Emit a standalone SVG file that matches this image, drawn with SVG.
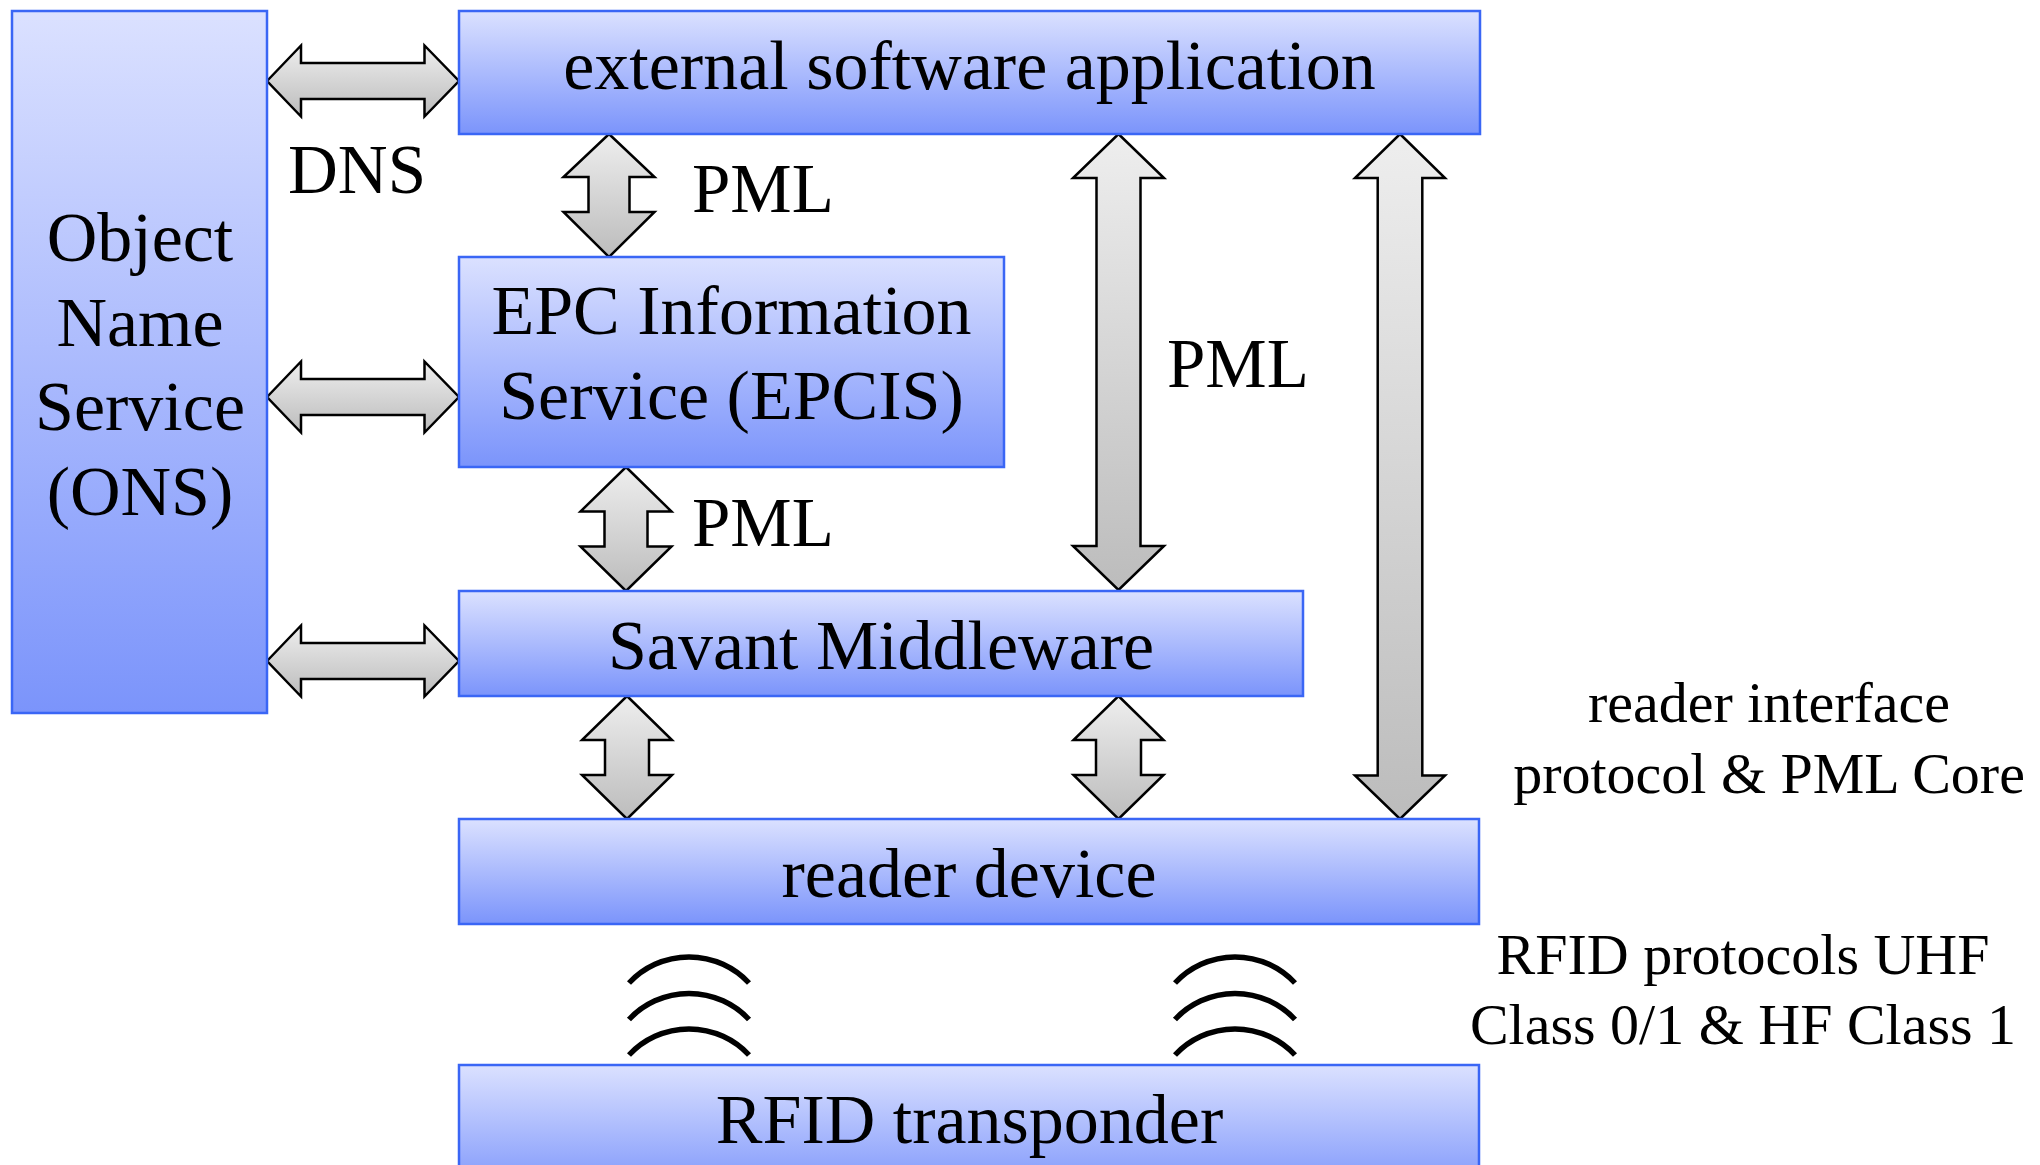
<svg xmlns="http://www.w3.org/2000/svg" width="2040" height="1165" viewBox="0 0 2040 1165">
<style>
.box{fill:url(#boxg);stroke:#3a66f5;stroke-width:2.5}
.arr{fill:url(#arrg);stroke:#000;stroke-width:2.5;stroke-linejoin:miter}
.wave{fill:none;stroke:#000;stroke-width:5.5}
text{font-family:"Liberation Serif","Times New Roman",serif;fill:#000}
.nt{font-size:70px;text-anchor:middle}
.lb{font-size:69px}
.rt{font-size:58px;text-anchor:middle}
</style>
<defs>
<linearGradient id="boxg" x1="0" y1="0" x2="0" y2="1">
<stop offset="0" stop-color="#dbe1ff"/>
<stop offset="1" stop-color="#7b94fb"/>
</linearGradient>
<linearGradient id="arrg" x1="0" y1="0" x2="0" y2="1">
<stop offset="0" stop-color="#eeeeee"/>
<stop offset="1" stop-color="#bcbcbc"/>
</linearGradient>
</defs>
<rect width="2040" height="1165" fill="#fff"/>

<g id="connectors">
<polygon class="arr" points="267,81 301,45.5 301,63 424.5,63 424.5,45.5 459,81 424.5,116.5 424.5,99 301,99 301,116.5"/>
<polygon class="arr" points="267,397 301,361.5 301,379 424.5,379 424.5,361.5 459,397 424.5,432.5 424.5,415 301,415 301,432.5"/>
<polygon class="arr" points="267,661 301,625.5 301,643 424.5,643 424.5,625.5 459,661 424.5,696.5 424.5,679 301,679 301,696.5"/>
<polygon class="arr" points="609,134 654.5,177 629.5,177 629.5,212 654.5,212 609,257 563.5,212 588.5,212 588.5,177 563.5,177"/>
<polygon class="arr" points="626,467 671.5,511.5 647.5,511.5 647.5,546.5 671.5,546.5 626,591 580.5,546.5 604.5,546.5 604.5,511.5 580.5,511.5"/>
<polygon class="arr" points="1118.5,134 1164,178 1140.5,178 1140.5,546 1164,546 1118.5,590 1073,546 1096.5,546 1096.5,178 1073,178"/>
<polygon class="arr" points="1400,134 1445,178 1422.3,178 1422.3,775.5 1445,775.5 1400,819 1355,775.5 1377.7,775.5 1377.7,178 1355,178"/>
<polygon class="arr" points="627,696 672,740 649,740 649,775 672,775 627,819 582,775 605,775 605,740 582,740"/>
<polygon class="arr" points="1118.5,696 1163.5,740 1141,740 1141,775 1163.5,775 1118.5,819 1073.5,775 1096,775 1096,740 1073.5,740"/>
<path class="wave" d="M629,983 A82,82 0 0 1 749,983 M629,1019.5 A82,82 0 0 1 749,1019.5 M629,1055 A82,82 0 0 1 749,1055"/>
<path class="wave" d="M1175,983 A82,82 0 0 1 1295,983 M1175,1019.5 A82,82 0 0 1 1295,1019.5 M1175,1055 A82,82 0 0 1 1295,1055"/>
</g>

<g id="ons">
<rect class="box" x="12" y="11" width="255" height="702"/>
<text class="nt" x="140" y="261">Object</text>
<text class="nt" x="140" y="346">Name</text>
<text class="nt" x="140" y="430">Service</text>
<text class="nt" x="140" y="515">(ONS)</text>
</g>

<g id="ext">
<rect class="box" x="459" y="11" width="1021" height="123"/>
<text class="nt" x="969.5" y="89">external software application</text>
</g>

<g id="epcis">
<rect class="box" x="459" y="257" width="545" height="210"/>
<text class="nt" x="731.5" y="334">EPC Information</text>
<text class="nt" x="731.5" y="419">Service (EPCIS)</text>
</g>

<g id="savant">
<rect class="box" x="459" y="591" width="844" height="105"/>
<text class="nt" x="881" y="669">Savant Middleware</text>
</g>

<g id="reader">
<rect class="box" x="459" y="819" width="1020" height="105"/>
<text class="nt" x="969" y="897">reader device</text>
</g>

<g id="transponder">
<rect class="box" x="459" y="1065" width="1020" height="130"/>
<text class="nt" x="969.5" y="1143">RFID transponder</text>
</g>

<g id="labels">
<text class="lb" x="288" y="193">DNS</text>
<text class="lb" x="692" y="212">PML</text>
<text class="lb" x="692" y="546">PML</text>
<text class="lb" x="1167" y="387">PML</text>
<text class="rt" x="1769" y="722">reader interface</text>
<text class="rt" x="1769" y="793">protocol &amp; PML Core</text>
<text class="rt" x="1743" y="974">RFID protocols UHF</text>
<text class="rt" x="1743" y="1044">Class 0/1 &amp; HF Class 1</text>
</g>
</svg>
